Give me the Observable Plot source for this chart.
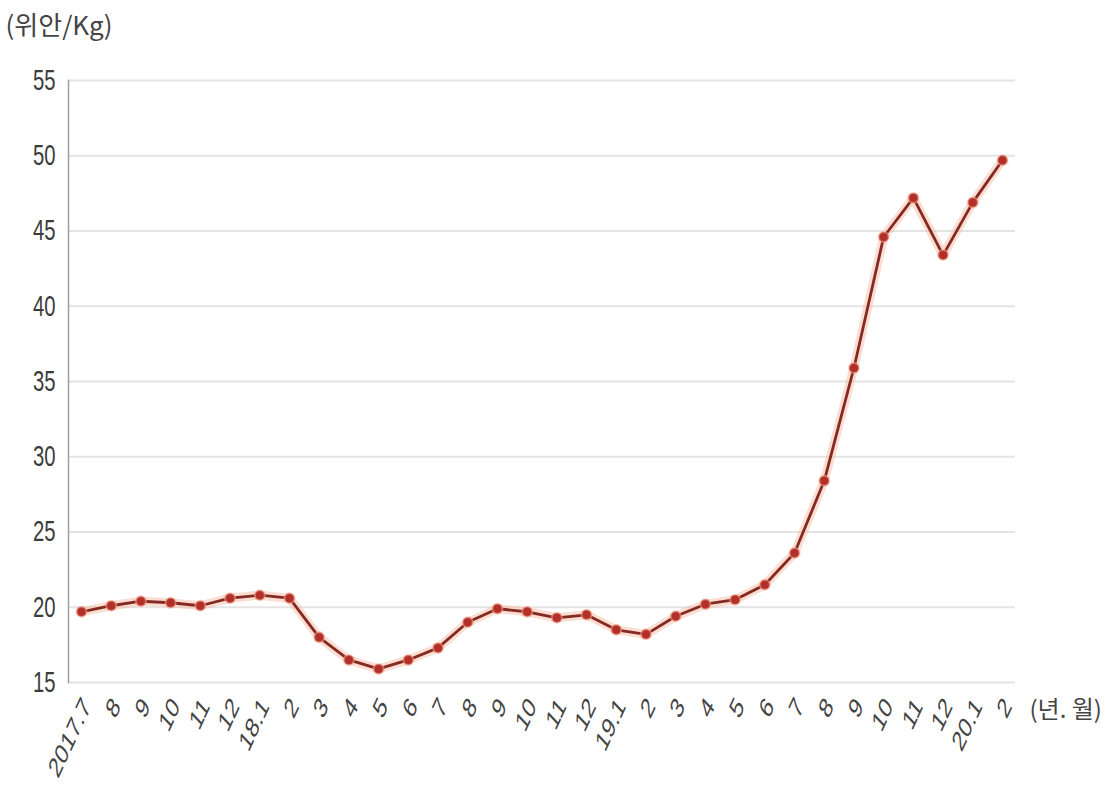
<!DOCTYPE html>
<html>
<head>
<meta charset="utf-8">
<script src="https://cdn.jsdelivr.net/npm/d3@7"></script>
<script src="https://cdn.jsdelivr.net/npm/@observablehq/plot@0.6"></script>
<style>
  html, body { margin: 0; padding: 0; background: #fff; }
  #chart svg { display: block; }
</style>
</head>
<body>
<div id="chart"></div>
<script>
// Monthly price, 2017.7 – 2020.2 (위안/Kg)
const monthLabels = ["2017.7", "8", "9", "10", "11", "12", "18.1", "2", "3", "4", "5", "6", "7", "8", "9", "10", "11", "12",
  "19.1", "2", "3", "4", "5", "6", "7", "8", "9", "10", "11", "12", "20.1", "2"];
const prices = [19.7, 20.1, 20.4, 20.3, 20.1, 20.6, 20.8, 20.6, 18.0, 16.5, 15.9, 16.5, 17.3, 19.0, 19.9, 19.7, 19.3, 19.5,
  18.5, 18.2, 19.4, 20.2, 20.5, 21.5, 23.6, 28.4, 35.9, 44.6, 47.2, 43.4, 46.9, 49.7];
const yTicks = [15, 20, 25, 30, 35, 40, 45, 50, 55];
const unitLabel = "(위안/Kg)";
const periodLabel = "(년. 월)";

const rows = prices.map((v, i) => ({i, v}));
const monthIndex = d3.range(monthLabels.length);
const font = "'Liberation Sans', Arial, sans-serif";
const krFont = "'Noto Sans CJK KR', 'Noto Sans', sans-serif";

const chart = Plot.plot({
  width: 1113,
  height: 795,
  marginTop: 80,
  marginBottom: 113,
  marginLeft: 68,
  marginRight: 98,
  style: {fontFamily: font, color: "#444", background: "#fff"},
  x: {domain: [-0.4375, monthLabels.length - 1 + 0.4375], label: null},
  y: {domain: [15, 55], label: null},
  marks: [
    Plot.ruleY(yTicks, {stroke: "#e4e4e4", strokeWidth: 2}),
    Plot.frame({anchor: "left", stroke: "#a0a0a0", strokeWidth: 1.5}),
    Plot.axisY({ticks: yTicks, tickSize: 0, tickPadding: 13, fontSize: 29, fill: "#3c3c3c", label: null,
      className: "ytick"}),
    Plot.axisX({ticks: monthIndex, tickSize: 0, tickPadding: 19, tickRotate: -55, fontSize: 29, fill: "#444",
      label: null, tickFormat: i => monthLabels[i], dx: 5, className: "xtick"}),
    Plot.line(rows, {x: "i", y: "v", stroke: "#f7b49a", strokeWidth: 9, strokeOpacity: 0.45}),
    Plot.line(rows, {x: "i", y: "v", stroke: "#842a22", strokeWidth: 2.8}),
    Plot.dot(rows, {x: "i", y: "v", r: 5, fill: "#b3302a", stroke: "#f4a58c", strokeWidth: 2, strokeOpacity: 0.55}),
    Plot.text([unitLabel], {frameAnchor: "top-left", dx: -63, dy: -64, textAnchor: "start",
      fontSize: 26, fill: "#444", fontFamily: krFont}),
    Plot.text([periodLabel], {frameAnchor: "bottom-right", dx: 14, dy: 35, textAnchor: "start",
      fontSize: 24, fill: "#444", fontFamily: krFont})
  ]
});

// Tick labels are set in a narrow face: compress them horizontally on screen.
d3.select(chart).selectAll(".ytick text").each(function() {
  const t = this.getAttribute("transform") || "";
  this.setAttribute("transform", t + " scale(0.7,1)");
});
d3.select(chart).selectAll(".xtick text").each(function() {
  const t = this.getAttribute("transform") || "";
  this.setAttribute("transform", t.replace("rotate(", "scale(0.66,1) rotate("));
});

document.getElementById("chart").appendChild(chart);
</script>
</body>
</html>
